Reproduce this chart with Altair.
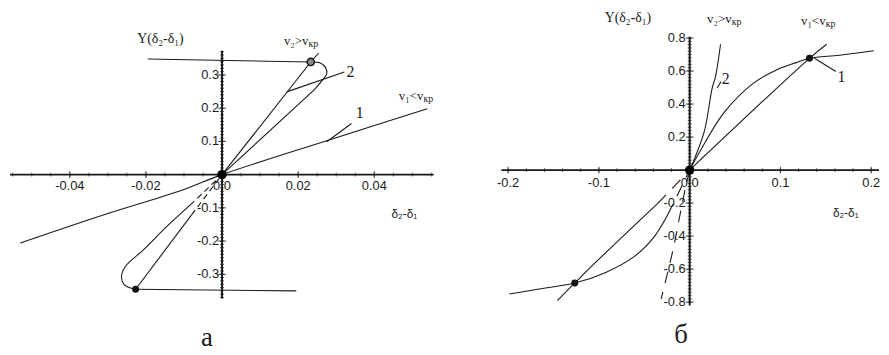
import altair as alt
import pandas as pd

# ---------------- Panel "а" (left) ----------------
A_X_DOMAIN = [-0.05571, 0.05649]
A_Y_DOMAIN = [-0.528, 0.4896]
A_XAXIS = [-0.0557, 0.0556]
A_YAXIS = [-0.373, 0.373]
A_XTICKS = [-0.04, -0.02, 0.0, 0.02, 0.04]
A_XTICK_LABELS = ["-0.04", "-0.02", "0.0", "0.02", "0.04"]
A_YTICKS = [-0.3, -0.2, -0.1, 0.1, 0.2, 0.3]
A_YTICK_LABELS = ["-0.3", "-0.2", "-0.1", "0.1", "0.2", "0.3"]
A_XMINOR = [round(-0.055 + 0.005 * k, 4) for k in range(23)]
A_YMINOR = [round(-0.37 + 0.01 * k, 3) for k in range(75)]

A_UP_OUT_X = [0.0, 0.0233]
A_UP_OUT_Y = [0.0, 0.339]
A_LOOP_UP_X = [0.0233, 0.0258, 0.0272, 0.0275, 0.0262, 0.0242]
A_LOOP_UP_Y = [0.339, 0.336, 0.322, 0.303, 0.282, 0.255]
A_UP_RET_X = [0.0242, 0.0]
A_UP_RET_Y = [0.255, 0.0]
A_TOP_X = [-0.0195, 0.0233]
A_TOP_Y = [0.348, 0.339]
A_EXT_X = [0.0233, 0.0254]
A_EXT_Y = [0.339, 0.366]
A_LEAD2_X = [0.0170, 0.0321]
A_LEAD2_Y = [0.249, 0.309]
A_LINE1_X = [-0.053, -0.0318, -0.0106, 0.0, 0.0275, 0.0539]
A_LINE1_Y = [-0.206, -0.124, -0.047, 0.0, 0.102, 0.198]
A_LEAD1_X = [0.0275, 0.034]
A_LEAD1_Y = [0.0988, 0.154]
A_LO_IN_X = [-0.0080, -0.0227]
A_LO_IN_Y = [-0.121, -0.345]
A_LOOP_LO_X = [-0.0227, -0.0258, -0.0264, -0.0253, -0.0206, -0.0145, -0.0084]
A_LOOP_LO_Y = [-0.345, -0.330, -0.305, -0.275, -0.226, -0.156, -0.092]
A_DASH_1_X = [-0.0084, 0.0]
A_DASH_1_Y = [-0.092, 0.0]
A_DASH_2_X = [-0.0080, 0.0]
A_DASH_2_Y = [-0.121, 0.0]
A_BOT_X = [-0.0227, 0.0195]
A_BOT_Y = [-0.345, -0.350]

A_OPEN_PT = ([0.0233], [0.339])
A_FILLED_PT = ([-0.0227], [-0.345])

# ---------------- Panel "б" (right) ----------------
B_X_DOMAIN = [-0.2674, 0.2097]
B_Y_DOMAIN = [-1.090, 0.958]
B_XAXIS = [-0.2075, 0.2086]
B_YAXIS = [-0.82, 0.808]
B_XTICKS = [-0.2, -0.1, 0.0, 0.1, 0.2]
B_XTICK_LABELS = ["-0.2", "-0.1", "0.0", "0.1", "0.2"]
B_YTICKS = [-0.8, -0.6, -0.4, -0.2, 0.2, 0.4, 0.6, 0.8]
B_YTICK_LABELS = ["-0.8", "-0.6", "-0.4", "-0.2", "0.2", "0.4", "0.6", "0.8"]
B_XMINOR = [round(-0.2 + 0.02 * k, 3) for k in range(21)]
B_YMINOR = [round(-0.8 + 0.02 * k, 3) for k in range(81)]

B_LINE2_UP_X = [0.0, 0.0158, 0.0248, 0.0285, 0.034]
B_LINE2_UP_Y = [0.0, 0.228, 0.497, 0.567, 0.762]
B_LINE2_DN_X = [0.0, -0.0041, -0.0096, -0.0187, -0.0314]
B_LINE2_DN_Y = [0.0, -0.092, -0.241, -0.491, -0.78]
B_LEAD2_X = [0.0303, 0.0346]
B_LEAD2_Y = [0.497, 0.537]
B_CURVE_UP_X = [0.0, 0.012, 0.0376, 0.0703, 0.0956, 0.1174, 0.132, 0.1647, 0.2028]
B_CURVE_UP_Y = [0.0, 0.12, 0.347, 0.527, 0.607, 0.651, 0.677, 0.696, 0.723]
B_CHORD_UP_X = [0.0, 0.132, 0.1509]
B_CHORD_UP_Y = [0.0, 0.677, 0.762]
B_LEAD1_X = [0.1375, 0.161]
B_LEAD1_Y = [0.677, 0.597]
B_CURVE_DN_X = [-0.1985, -0.1658, -0.1266, -0.0931, -0.0605, -0.0387, -0.0242]
B_CURVE_DN_Y = [-0.750, -0.720, -0.684, -0.621, -0.521, -0.401, -0.271]
B_CURVE_DN_DASH_X = [-0.0242, 0.0]
B_CURVE_DN_DASH_Y = [-0.271, 0.0]
B_CHORD_DN_X = [-0.1458, -0.1266, -0.104, -0.0678, -0.0351]
B_CHORD_DN_Y = [-0.790, -0.684, -0.561, -0.371, -0.202]
B_CHORD_DN_DASH_X = [-0.0351, 0.0]
B_CHORD_DN_DASH_Y = [-0.202, 0.0]
B_FILLED_PTS = ([0.132, -0.1266], [0.677, -0.684])

# ---------------- Labels ----------------
A_LABELS = {  # text, x, y
    "ylab": ("Y(δ₂-δ₁)", -0.0162, 0.409),
    "xlab": ("δ₂-δ₁", 0.0479, -0.12),
    "n2": ("2", 0.0327, 0.308),
    "n1": ("1", 0.0351, 0.186),
    "panel": ("а", -0.004, -0.492),
}
A_V_LABELS = [("v₂>v", 0.0227, 0.403), ("v₁<v", 0.0529, 0.236)]
B_LABELS = {
    "ylab": ("Y(δ₂-δ₁)", -0.068, 0.922),
    "xlab": ("δ₂-δ₁", 0.172, -0.262),
    "n2": ("2", 0.0354, 0.551),
    "n1": ("1", 0.163, 0.566),
    "panel": ("б", -0.0096, -1.0),
}
B_V_LABELS = [("v₂>v", 0.0463, 0.916), ("v₁<v", 0.1498, 0.904)]
SUB_TEXT = "кр"

INK = "#1a1a1a"
SERIF = "Liberation Serif"
SANS = "Liberation Sans"


def seg_frame(segs):
    rows = []
    for name, (xs, ys) in segs.items():
        for i, (x, y) in enumerate(zip(xs, ys)):
            rows.append({"seg": name, "i": i, "x": x, "y": y})
    return pd.DataFrame(rows)


def panel(xdom, ydom, w, h, xaxis, yaxis, xticks, xlabels, yticks, ylabels,
          xminor, yminor, solid, dashed, dash, open_pts, filled_pts,
          labels, vlabels, xlab_dy, ylab_dx):
    xs = alt.Scale(domain=xdom, nice=False, zero=False)
    ys = alt.Scale(domain=ydom, nice=False, zero=False)

    def X(f="x"):
        return alt.X(f + ":Q", scale=xs, axis=None)

    def Y(f="y"):
        return alt.Y(f + ":Q", scale=ys, axis=None)

    layers = []
    hx = pd.DataFrame({"x": [xaxis[0]], "x2": [xaxis[1]], "y": [0.0]})
    layers.append(alt.Chart(hx).mark_rule(color=INK, strokeWidth=1.6).encode(
        x=X(), x2="x2:Q", y=Y()))
    vy = pd.DataFrame({"x": [0.0], "y": [yaxis[0]], "y2": [yaxis[1]]})
    layers.append(alt.Chart(vy).mark_rule(color=INK, strokeWidth=2).encode(
        x=X(), y=Y(), y2="y2:Q"))
    layers.append(alt.Chart(pd.DataFrame({"x": xminor, "y": [0.0] * len(xminor)}))
                  .mark_tick(orient="vertical", size=4, thickness=1, color=INK)
                  .encode(x=X(), y=Y()))
    layers.append(alt.Chart(pd.DataFrame({"x": [0.0] * len(yminor), "y": yminor}))
                  .mark_tick(orient="horizontal", size=4, thickness=1, color=INK)
                  .encode(x=X(), y=Y()))
    layers.append(alt.Chart(pd.DataFrame({"x": xticks, "y": [0.0] * len(xticks)}))
                  .mark_tick(orient="vertical", size=7, thickness=1.2, color=INK)
                  .encode(x=X(), y=Y()))
    layers.append(alt.Chart(pd.DataFrame({"x": [0.0] * len(yticks), "y": yticks}))
                  .mark_tick(orient="horizontal", size=8, thickness=1.2, color=INK)
                  .encode(x=X(), y=Y()))
    layers.append(alt.Chart(pd.DataFrame({"x": xticks, "y": [0.0] * len(xticks), "t": xlabels}))
                  .mark_text(font=SANS, fontSize=13, color=INK, align="center",
                             baseline="top", dy=xlab_dy)
                  .encode(x=X(), y=Y(), text="t:N"))
    layers.append(alt.Chart(pd.DataFrame({"x": [0.0] * len(yticks), "y": yticks, "t": ylabels}))
                  .mark_text(font=SANS, fontSize=13, color=INK, align="right",
                             baseline="middle", dx=ylab_dx)
                  .encode(x=X(), y=Y(), text="t:N"))
    layers.append(alt.Chart(seg_frame(solid))
                  .mark_line(color=INK, strokeWidth=1.1, interpolate="catmull-rom")
                  .encode(x=X(), y=Y(), detail="seg:N", order="i:Q"))
    if dashed:
        layers.append(alt.Chart(seg_frame(dashed))
                      .mark_line(color=INK, strokeWidth=1.1, strokeDash=dash,
                                 interpolate="catmull-rom")
                      .encode(x=X(), y=Y(), detail="seg:N", order="i:Q"))
    layers.append(alt.Chart(pd.DataFrame({"x": [0.0], "y": [0.0]}))
                  .mark_circle(size=90, color="#000", opacity=1)
                  .encode(x=X(), y=Y()))
    if open_pts is not None:
        layers.append(alt.Chart(pd.DataFrame({"x": open_pts[0], "y": open_pts[1]}))
                      .mark_point(shape="circle", size=55, filled=True, fill="#888",
                                  stroke="#111", strokeWidth=1.4, opacity=1)
                      .encode(x=X(), y=Y()))
    layers.append(alt.Chart(pd.DataFrame({"x": filled_pts[0], "y": filled_pts[1]}))
                  .mark_circle(size=50, color="#111", opacity=1)
                  .encode(x=X(), y=Y()))
    lab = labels
    layers.append(alt.Chart(pd.DataFrame({"x": [lab["ylab"][1]], "y": [lab["ylab"][2]], "t": [lab["ylab"][0]]}))
                  .mark_text(font=SERIF, fontSize=14, color=INK, align="center", baseline="middle")
                  .encode(x=X(), y=Y(), text="t:N"))
    layers.append(alt.Chart(pd.DataFrame({"x": [lab["xlab"][1]], "y": [lab["xlab"][2]], "t": [lab["xlab"][0]]}))
                  .mark_text(font=SANS, fontSize=12, color=INK, align="center", baseline="middle")
                  .encode(x=X(), y=Y(), text="t:N"))
    nums = pd.DataFrame({"x": [lab["n2"][1], lab["n1"][1]], "y": [lab["n2"][2], lab["n1"][2]],
                         "t": [lab["n2"][0], lab["n1"][0]]})
    layers.append(alt.Chart(nums)
                  .mark_text(font=SERIF, fontSize=16, color=INK, align="left", baseline="middle")
                  .encode(x=X(), y=Y(), text="t:N"))
    layers.append(alt.Chart(pd.DataFrame({"x": [lab["panel"][1]], "y": [lab["panel"][2]], "t": [lab["panel"][0]]}))
                  .mark_text(font=SERIF, fontSize=27, color=INK, align="center", baseline="middle")
                  .encode(x=X(), y=Y(), text="t:N"))
    vdf = pd.DataFrame({"x": [v[1] for v in vlabels], "y": [v[2] for v in vlabels],
                        "t": [v[0] for v in vlabels], "s": [SUB_TEXT] * len(vlabels)})
    layers.append(alt.Chart(vdf)
                  .mark_text(font=SERIF, fontSize=13, color=INK, align="right", baseline="middle")
                  .encode(x=X(), y=Y(), text="t:N"))
    layers.append(alt.Chart(vdf)
                  .mark_text(font=SERIF, fontSize=10, color=INK, align="left", baseline="middle", dy=3)
                  .encode(x=X(), y=Y(), text="s:N"))
    return alt.layer(*layers).properties(width=w, height=h)


left = panel(
    A_X_DOMAIN, A_Y_DOMAIN, 432, 342, A_XAXIS, A_YAXIS,
    A_XTICKS, A_XTICK_LABELS, A_YTICKS, A_YTICK_LABELS, A_XMINOR, A_YMINOR,
    solid={
        "up_out": (A_UP_OUT_X, A_UP_OUT_Y),
        "loop_up": (A_LOOP_UP_X, A_LOOP_UP_Y),
        "up_ret": (A_UP_RET_X, A_UP_RET_Y),
        "top": (A_TOP_X, A_TOP_Y),
        "ext": (A_EXT_X, A_EXT_Y),
        "lead2": (A_LEAD2_X, A_LEAD2_Y),
        "line1": (A_LINE1_X, A_LINE1_Y),
        "lead1": (A_LEAD1_X, A_LEAD1_Y),
        "lo_in": (A_LO_IN_X, A_LO_IN_Y),
        "loop_lo": (A_LOOP_LO_X, A_LOOP_LO_Y),
        "bot": (A_BOT_X, A_BOT_Y),
    },
    dashed={
        "d1": (A_DASH_1_X, A_DASH_1_Y),
        "d2": (A_DASH_2_X, A_DASH_2_Y),
    },
    dash=[6, 4],
    open_pts=A_OPEN_PT, filled_pts=A_FILLED_PT,
    labels=A_LABELS, vlabels=A_V_LABELS, xlab_dy=6, ylab_dx=-3,
)

right = panel(
    B_X_DOMAIN, B_Y_DOMAIN, 438, 342, B_XAXIS, B_YAXIS,
    B_XTICKS, B_XTICK_LABELS, B_YTICKS, B_YTICK_LABELS, B_XMINOR, B_YMINOR,
    solid={
        "l2up": (B_LINE2_UP_X, B_LINE2_UP_Y),
        "lead2": (B_LEAD2_X, B_LEAD2_Y),
        "cup": (B_CURVE_UP_X, B_CURVE_UP_Y),
        "chup": (B_CHORD_UP_X, B_CHORD_UP_Y),
        "lead1": (B_LEAD1_X, B_LEAD1_Y),
        "cdn": (B_CURVE_DN_X, B_CURVE_DN_Y),
        "chdn": (B_CHORD_DN_X, B_CHORD_DN_Y),
    },
    dashed={
        "l2dn": (B_LINE2_DN_X, B_LINE2_DN_Y),
        "cdnd": (B_CURVE_DN_DASH_X, B_CURVE_DN_DASH_Y),
        "chdnd": (B_CHORD_DN_DASH_X, B_CHORD_DN_DASH_Y),
    },
    dash=[12, 9],
    open_pts=None, filled_pts=B_FILLED_PTS,
    labels=B_LABELS, vlabels=B_V_LABELS, xlab_dy=7, ylab_dx=-4,
)

chart = alt.hconcat(left, right, spacing=10, bounds="flush").properties(
    padding=0
).configure_view(stroke="transparent")

chart.save("out.html", embed_options={"renderer": "svg", "actions": False})
